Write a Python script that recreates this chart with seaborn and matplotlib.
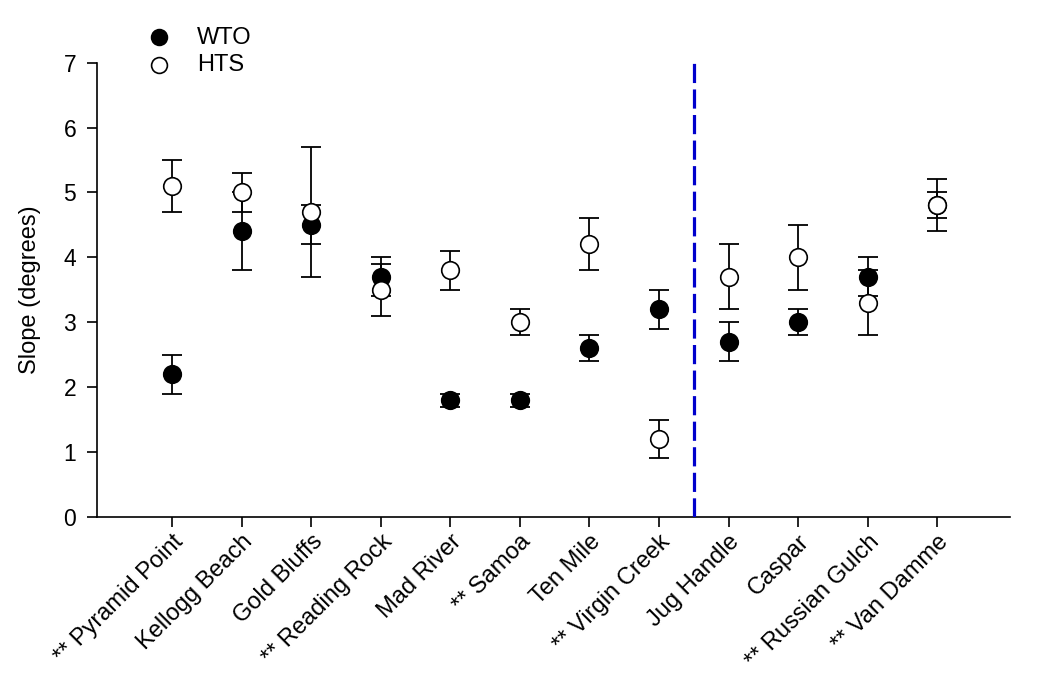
import numpy as np
import pandas as pd
import matplotlib
matplotlib.use("Agg")
import matplotlib.pyplot as plt
import seaborn as sns

sites = ["** Pyramid Point", "Kellogg Beach", "Gold Bluffs", "** Reading Rock",
         "Mad River", "** Samoa", "Ten Mile", "** Virgin Creek",
         "Jug Handle", "Caspar", "** Russian Gulch", "** Van Damme"]
wto = [2.2, 4.4, 4.5, 3.7, 1.8, 1.8, 2.6, 3.2, 2.7, 3.0, 3.7, 4.8]
wto_err = [0.3, 0.6, 0.3, 0.3, 0.1, 0.1, 0.2, 0.3, 0.3, 0.2, 0.3, 0.2]
hts = [5.1, 5.0, 4.7, 3.5, 3.8, 3.0, 4.2, 1.2, 3.7, 4.0, 3.3, 4.8]
hts_err = [0.4, 0.3, 1.0, 0.4, 0.3, 0.2, 0.4, 0.3, 0.5, 0.5, 0.5, 0.4]
y_ticks = [0, 1, 2, 3, 4, 5, 6, 7]
divider_between = 7.5  # between Virgin Creek and Jug Handle

sns.set_style("ticks")
plt.rcParams["font.family"] = ["Liberation Sans", "DejaVu Sans"]
plt.rcParams["text.color"] = "black"
plt.rcParams["axes.labelcolor"] = "black"

pos = np.arange(len(sites))
df_wto = pd.DataFrame({"pos": pos, "slope": wto, "err": wto_err})
df_hts = pd.DataFrame({"pos": pos, "slope": hts, "err": hts_err})

fig = plt.figure(figsize=(10.43, 6.81), dpi=100)
ax = fig.add_axes([0.093, 0.241, 0.875, 0.667])

ax.errorbar(df_wto["pos"], df_wto["slope"], yerr=df_wto["err"], fmt="none",
            ecolor="black", elinewidth=1.3, capsize=7, capthick=1.3, zorder=2)
sns.scatterplot(data=df_wto, x="pos", y="slope", ax=ax, color="black",
                edgecolor="black", linewidth=1.2, s=160, label="WTO", zorder=3)
ax.errorbar(df_hts["pos"], df_hts["slope"], yerr=df_hts["err"], fmt="none",
            ecolor="black", elinewidth=1.3, capsize=7, capthick=1.3, zorder=4)
sns.scatterplot(data=df_hts, x="pos", y="slope", ax=ax, color="white",
                edgecolor="black", linewidth=1.2, s=160, label="HTS", zorder=5)

ax.axvline(divider_between, color="#0000CC", lw=2.3, dashes=(6, 2), zorder=6)

ax.set_xlim(-1.08, 12.04)
ax.set_ylim(0, 7)
ax.set_yticks(y_ticks)
ax.set_yticklabels([str(t) for t in y_ticks], fontsize=16.5)
ax.set_xticks(pos)
ax.set_xticklabels(sites, fontsize=17, rotation=45, ha="right", va="top",
                   rotation_mode="anchor")
ax.set_xlabel("")
ax.set_ylabel("Slope (degrees)", fontsize=17, labelpad=16, color="black")
ax.tick_params(axis="both", direction="out", length=7, width=1.2, colors="black")
ax.tick_params(axis="y", pad=8)
ax.tick_params(axis="x", pad=3)
for side in ["top", "right"]:
    ax.spines[side].set_visible(False)
for side in ["left", "bottom"]:
    ax.spines[side].set_linewidth(1.2)
    ax.spines[side].set_color("black")

handles, labels = ax.get_legend_handles_labels()
ax.get_legend().remove()
leg = fig.legend(handles, labels, loc="upper left", bbox_to_anchor=(0.141, 0.961),
                 frameon=False, fontsize=17, handlelength=1.0, handletextpad=1.1,
                 labelspacing=0.25, borderpad=0, borderaxespad=0, markerscale=0.9)
for t in leg.get_texts():
    t.set_color("black")

fig.savefig("out.png", dpi=100)
